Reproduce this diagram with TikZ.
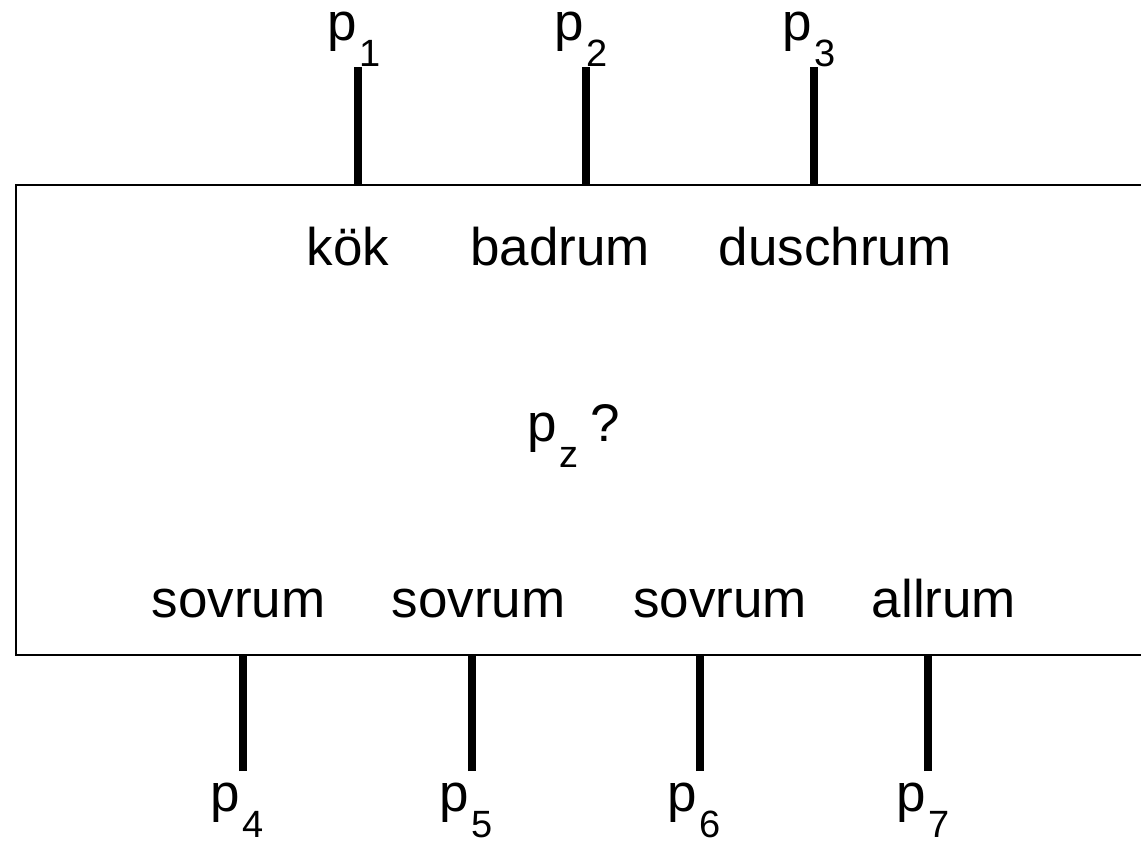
\documentclass[tikz,border=0pt]{standalone}
\usepackage{fontspec}
\setmainfont{Liberation Sans}
\newcommand{\psub}[1]{{\fontsize{53}{60}\selectfont p}\hspace{3pt}\raisebox{-26pt}{\fontsize{38}{44}\selectfont #1}}
\begin{document}
\begin{tikzpicture}[x=1pt,y=-1pt,
  lbl/.style={anchor=base,inner sep=0pt,font=\fontsize{53}{60}\selectfont},
  plbl/.style={anchor=base west,inner sep=0pt,text height=29pt,text depth=26pt},
  stub/.style={line width=8pt},
  boxst/.style={draw,line width=2pt,rectangle,inner sep=0pt,anchor=north west}]
\useasboundingbox (0,0) rectangle (1141,847);
\clip (0,0) rectangle (1141,847);
\node[boxst,minimum width=1165pt,minimum height=470pt] (box) at (15,184) {};
% top stubs
\coordinate (t1) at (358,67);
\coordinate (t2) at (586,67);
\coordinate (t3) at (814,67);
\draw[stub] (t1) -- (t1 |- box.north);
\draw[stub] (t2) -- (t2 |- box.north);
\draw[stub] (t3) -- (t3 |- box.north);
% bottom stubs
\coordinate (b4) at (243,771);
\coordinate (b5) at (472,771);
\coordinate (b6) at (700,771);
\coordinate (b7) at (928,771);
\draw[stub] (b4) -- (b4 |- box.south);
\draw[stub] (b5) -- (b5 |- box.south);
\draw[stub] (b6) -- (b6 |- box.south);
\draw[stub] (b7) -- (b7 |- box.south);
% port labels
\node[plbl] (p1) at (327,40) {\psub{1}};
\node[plbl] (p2) at (554,40) {\psub{2}};
\node[plbl] (p3) at (782,40) {\psub{3}};
\node[plbl] (p4) at (210,811) {\psub{4}};
\node[plbl] (p5) at (439,811) {\psub{5}};
\node[plbl] (p6) at (667,811) {\psub{6}};
\node[plbl] (p7) at (896,811) {\psub{7}};
% room labels
\node[lbl] (kok) at (348,265) {kök};
\node[lbl] (bad) at (560,265) {badrum};
\node[lbl] (dusch) at (835,265) {duschrum};
\node[lbl] (s1) at (238.5,617) {sovrum};
\node[lbl] (s2) at (478.5,617) {sovrum};
\node[lbl] (s3) at (720,617) {sovrum};
\node[lbl] (all) at (944,617) {allrum};
\node[plbl] (pz) at (527,441) {\psub{z}\hspace{12pt}{\fontsize{53}{60}\selectfont ?}};
\end{tikzpicture}
\end{document}
